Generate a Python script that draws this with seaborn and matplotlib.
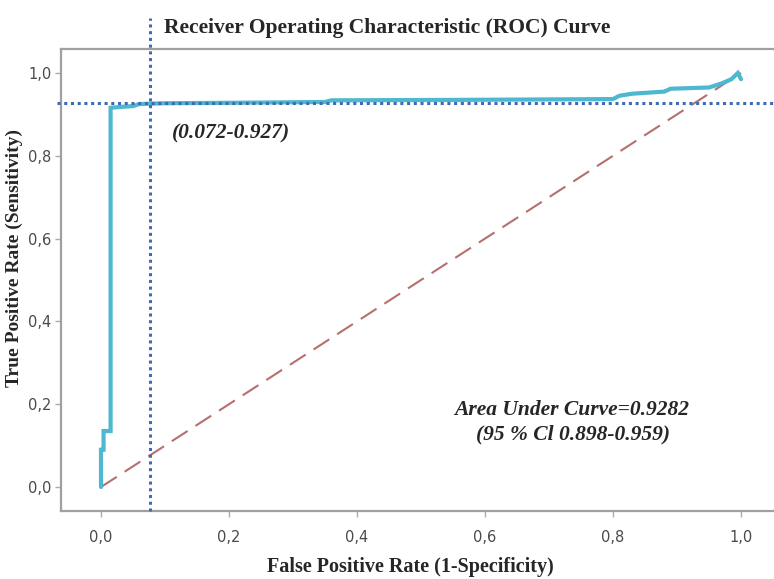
import matplotlib
matplotlib.use("Agg")
import matplotlib.pyplot as plt
import seaborn as sns
import pandas as pd
from matplotlib.ticker import FuncFormatter, FixedLocator

# ---- data ----
fpr = [0.0, 0.0, 0.004, 0.004, 0.015, 0.015, 0.03, 0.05, 0.06, 0.10, 0.20, 0.35,
       0.36, 0.55, 0.80, 0.81, 0.83, 0.88, 0.89, 0.95, 0.97, 0.985, 0.995, 1.0]
tpr = [0.0, 0.09, 0.09, 0.135, 0.135, 0.916, 0.918, 0.92, 0.925, 0.927, 0.928, 0.930,
       0.934, 0.935, 0.937, 0.945, 0.950, 0.955, 0.962, 0.965, 0.975, 0.985, 1.0, 0.985]
chance_x = [0.0, 1.0]
chance_y = [0.0, 1.0]
cutoff_fpr = 0.077
cutoff_tpr = 0.927
tick_vals = [0.0, 0.2, 0.4, 0.6, 0.8, 1.0]
title = "Receiver Operating Characteristic (ROC) Curve"
xlabel = "False Positive Rate (1-Specificity)"
ylabel = "True Positive Rate (Sensitivity)"
cut_label = "(0.072-0.927)"
auc_label = "Area Under Curve=0.9282"
ci_label = "(95 % Cl 0.898-0.959)"

sns.set_style("white")
plt.rcParams['font.family'] = ['DejaVu Sans']

W, H = 774, 579
fig = plt.figure(figsize=(W / 100, H / 100), dpi=100)
ax_l, ax_r, ax_t, ax_b = 61, 774, 49, 511
ax = fig.add_axes([ax_l / W, 1 - ax_b / H, (ax_r - ax_l) / W, (ax_b - ax_t) / H])

x0px, x1px = 101, 741
y0px, y1px = 487, 73
sx = x1px - x0px
sy = y0px - y1px
ax.set_xlim((ax_l - x0px) / sx, (ax_r - x0px) / sx)
ax.set_ylim((y0px - ax_b) / sy, (y0px - ax_t) / sy)

df = pd.DataFrame({"fpr": fpr, "tpr": tpr})
sns.lineplot(data=df, x="fpr", y="tpr", sort=False, estimator=None, ax=ax,
             color="#4DB8CF", linewidth=3.0, solid_joinstyle="miter", zorder=4)
sns.lineplot(x=chance_x, y=chance_y, ax=ax, color="#B5706E", linewidth=1.5,
             linestyle=(0, (9, 4.5)), zorder=3)

xl = ax.get_xlim()
yl = ax.get_ylim()
ax.plot([xl[0] - 0.006, xl[1]], [cutoff_tpr, cutoff_tpr], color="#3D6DB0",
        linestyle=(0, (1, 1.2)), linewidth=2.2, clip_on=False, zorder=5)
ax.plot([cutoff_fpr, cutoff_fpr], [yl[0], (y0px - 18) / sy], color="#3D6DB0",
        linestyle=(0, (1, 1.2)), linewidth=2.2, clip_on=False, zorder=5)

ax.xaxis.set_major_locator(FixedLocator(tick_vals))
ax.yaxis.set_major_locator(FixedLocator(tick_vals))
fmt = FuncFormatter(lambda v, p: f"{v:.1f}".replace(".", ","))
ax.xaxis.set_major_formatter(fmt)
ax.yaxis.set_major_formatter(fmt)
ax.tick_params(axis="both", which="major", direction="out", length=4, width=1,
               color="#aaaaaa", labelcolor="#4a4a4a", labelsize=10.5, pad=3)
ax.tick_params(bottom=True, left=True)
ax.tick_params(axis="x", pad=10)

for side in ["left", "bottom", "top"]:
    ax.spines[side].set_color("#a0a0a0")
    ax.spines[side].set_linewidth(1.6)
ax.spines["right"].set_visible(False)
ax.set_xlabel("")
ax.set_ylabel("")

serif = "Liberation Serif"
fig.text(387 / W, 1 - 28 / H, title, ha="center", va="center", fontsize=15.5,
         fontweight="bold", family=serif)
fig.text(410 / W, 1 - 567 / H, xlabel, ha="center", va="center", fontsize=14.5,
         fontweight="bold", family=serif)
fig.text(14 / W, 1 - 258 / H, ylabel, ha="center", va="center", fontsize=14,
         fontweight="bold", family=serif, rotation=90)

ax.text((231 - x0px) / sx, (y0px - 133) / sy, cut_label, ha="center", va="center",
        fontsize=15.5, fontweight="bold", style="italic", family=serif)
ax.text((572 - x0px) / sx, (y0px - 410) / sy, auc_label, ha="center", va="center",
        fontsize=15.5, fontweight="bold", style="italic", family=serif)
ax.text((573 - x0px) / sx, (y0px - 434) / sy, ci_label, ha="center", va="center",
        fontsize=15.5, fontweight="bold", style="italic", family=serif)

fig.savefig("out.png", dpi=100)
